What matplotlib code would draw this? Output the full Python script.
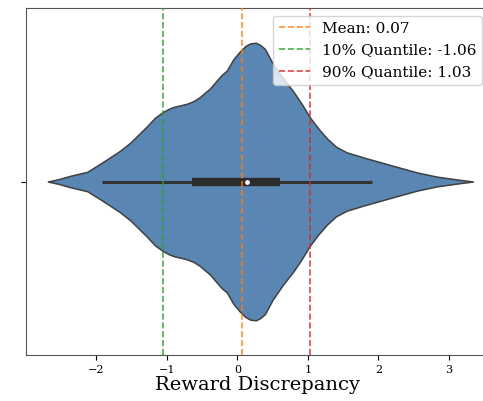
import matplotlib.pyplot as plt

plt.rcParams['font.family'] = ['DejaVu Serif']

# Perfil do violino: posição no eixo x e densidade relativa (pico = 1)
pos = [-2.69, -2.53, -2.38, -2.13, -1.91, -1.67, -1.52, -1.40, -1.28, -1.17,
       -1.06, -0.97, -0.89, -0.80, -0.72, -0.62, -0.53, -0.45, -0.39, -0.29,
       -0.22, -0.15, -0.06, 0.03, 0.11, 0.18, 0.26, 0.32, 0.39, 0.50,
       0.65, 0.79, 0.91, 1.03, 1.15, 1.27, 1.40, 1.55, 1.81, 2.02,
       2.30, 2.55, 2.83, 3.11, 3.34]
dens = [0.0, 0.018, 0.04, 0.07, 0.14, 0.22, 0.28, 0.34, 0.40, 0.46,
        0.50, 0.525, 0.54, 0.55, 0.56, 0.58, 0.61, 0.645, 0.67, 0.73,
        0.77, 0.80, 0.88, 0.935, 0.975, 0.995, 1.0, 0.985, 0.955, 0.85,
        0.74, 0.65, 0.56, 0.46, 0.38, 0.31, 0.25, 0.21, 0.17, 0.14,
        0.10, 0.065, 0.035, 0.015, 0.0]

# Estatísticas do boxplot interno
q1, mediana, q3 = -0.65, 0.14, 0.60
bigode_min, bigode_max = -1.92, 1.91

media = 0.07
quantil10 = -1.06
quantil90 = 1.03

fig = plt.figure(figsize=(4.83, 4.01), dpi=100)
ax = fig.add_axes([0.0538, 0.1147, 0.9607, 0.8653])

largura = 0.4
sup = [d * largura for d in dens]
inf = [-d * largura for d in dens]
ax.fill_between(pos, inf, sup, color='#5a86b4', edgecolor='#404040',
                linewidth=1.1, zorder=1)

# Box interno
ax.plot([bigode_min, bigode_max], [0, 0], color='#333333', linewidth=2.2,
        solid_capstyle='butt', zorder=2)
ax.plot([q1, q3], [0, 0], color='#2b2b2b', linewidth=6,
        solid_capstyle='butt', zorder=3)
ax.scatter([mediana], [0], color='white', s=6, zorder=4)

# Linhas de referência
ax.axvline(media, color='tab:orange', linestyle='--', linewidth=1.2,
           alpha=0.85, label=f'Mean: {media:.2f}', zorder=5)
ax.axvline(quantil10, color='tab:green', linestyle='--', linewidth=1.2,
           alpha=0.85, label=f'10% Quantile: {quantil10:.2f}', zorder=5)
ax.axvline(quantil90, color='tab:red', linestyle='--', linewidth=1.2,
           alpha=0.85, label=f'90% Quantile: {quantil90:.2f}', zorder=5)

ax.set_xlim(-3.0, 3.582)
ax.set_ylim(0.5, -0.5)
ax.set_yticks([0])
ax.set_yticklabels([''])
ax.set_xticks([-2, -1, 0, 1, 2, 3])
ax.tick_params(axis='x', labelsize=8)
ax.set_xlabel('Reward Discrepancy', fontsize=14, labelpad=1)

for s in ax.spines.values():
    s.set_color('#555555')

ax.legend(loc='upper right', fontsize=11)

plt.savefig('out.png', dpi=100)
